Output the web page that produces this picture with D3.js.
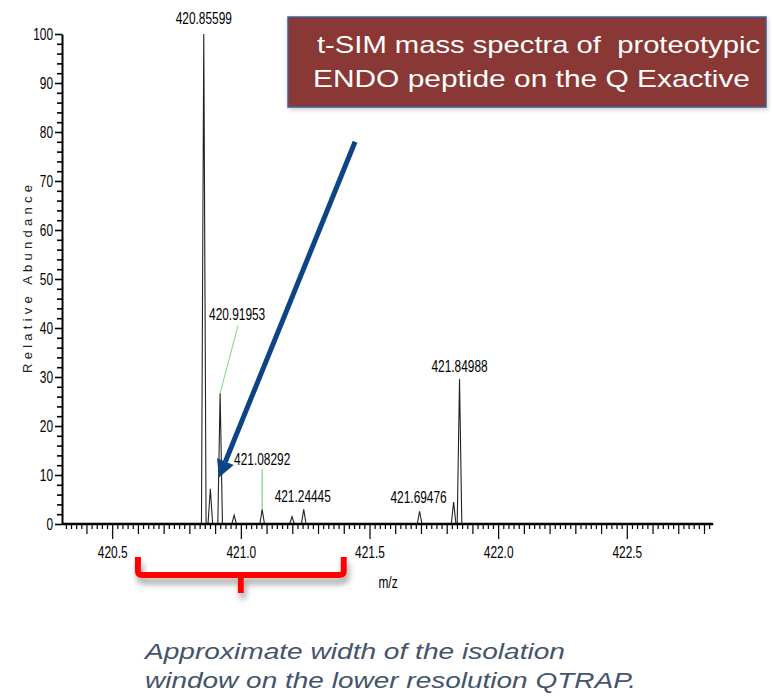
<!DOCTYPE html>
<html>
<head>
<meta charset="utf-8">
<script src="https://cdn.jsdelivr.net/npm/d3@7"></script>
<style>
  body { margin: 0; background: #fff; }
  svg { font-family: "Liberation Sans", Arial, sans-serif; }
</style>
</head>
<body>
<svg id="chart"></svg>
<script>
// peaks (m/z, relative abundance)
var peakMz = [420.85599, 420.8815, 420.91953, 420.974, 421.08292, 421.199, 421.24445, 421.69476, 421.827, 421.84988];
var peakHeight = [100, 7.2, 26.7, 1.8, 3.0, 1.5, 3.0, 2.6, 4.5, 29.6];

// labelled peaks
var labelMz = [420.85599, 420.91953, 421.08292, 421.24445, 421.69476, 421.84988];
var labelText = ["420.85599", "420.91953", "421.08292", "421.24445", "421.69476", "421.84988"];

var xMajor = [420.5, 421.0, 421.5, 422.0, 422.5];
var yMajor = [0, 10, 20, 30, 40, 50, 60, 70, 80, 90, 100];

var isolationWindow = [420.6, 421.4];
var arrowFrom = [421.444, 78];
var arrowTo = [420.915, 9.5];

var titleLines = ["t-SIM mass spectra of  proteotypic", "ENDO peptide on the Q Exactive"];
var noteLines = ["Approximate width of the isolation", "window on the lower resolution QTRAP."];

function chart() {
  var width = 772, height = 696;
  var svg = d3.select("#chart").attr("width", width).attr("height", height);

  var defs = svg.append("defs");
  var sh = defs.append("filter").attr("id", "shadow")
    .attr("x", "-20%").attr("y", "-20%").attr("width", "140%").attr("height", "180%");
  sh.append("feDropShadow").attr("dx", 2).attr("dy", 6).attr("stdDeviation", 3)
    .attr("flood-color", "#666").attr("flood-opacity", 0.6);
  var sh2 = defs.append("filter").attr("id", "boxshadow")
    .attr("x", "-5%").attr("y", "-10%").attr("width", "110%").attr("height", "130%");
  sh2.append("feDropShadow").attr("dx", 1).attr("dy", 2).attr("stdDeviation", 2)
    .attr("flood-color", "#999").attr("flood-opacity", 0.5);

  var x = d3.scaleLinear().domain([420.305, 422.835]).range([62, 713]);
  var y = d3.scaleLinear().domain([0, 100]).range([524, 34]);

  var narrow = 0.7; // condensed digits like the instrument software
  var fs = 17;

  // y axis: minor every 2, major every 10
  var yMinor = d3.range(0, 101, 2).filter(function(v) { return v % 10 !== 0; });
  svg.append("g").attr("transform", "translate(62,0)")
    .call(d3.axisLeft(y).tickValues(yMinor).tickSize(5).tickSizeOuter(0).tickFormat(""))
    .call(function(g) { g.select(".domain").remove(); })
    .selectAll("line").attr("stroke", "#000").attr("stroke-width", 1.6);

  var yAx = svg.append("g").attr("transform", "translate(62,0)")
    .call(d3.axisLeft(y).tickValues(yMajor).tickSize(7).tickSizeOuter(0).tickFormat(d3.format("d")));
  yAx.select(".domain").attr("stroke", "#000").attr("stroke-width", 2);
  yAx.selectAll("line").attr("stroke", "#000").attr("stroke-width", 1.6);
  yAx.selectAll("text")
    .attr("font-family", "'Liberation Sans', Arial, sans-serif")
    .attr("font-size", fs).attr("fill", "#000")
    .attr("x", -9 / narrow)
    .attr("transform", "scale(" + narrow + ",1)");

  // x axis: minor 0.02, medium 0.1, major 0.5
  var xMinor = d3.range(21016, 21142).map(function(i) { return i / 50; })
    .filter(function(v) { return Math.abs(v * 10 - Math.round(v * 10)) > 1e-6; });
  var xMedium = d3.range(4204, 4229).map(function(i) { return i / 10; })
    .filter(function(v) { return Math.abs(v * 2 - Math.round(v * 2)) > 1e-6; });

  svg.append("g").attr("transform", "translate(0,524)")
    .call(d3.axisBottom(x).tickValues(xMinor).tickSize(5).tickSizeOuter(0).tickFormat(""))
    .call(function(g) { g.select(".domain").remove(); })
    .selectAll("line").attr("stroke", "#000").attr("stroke-width", 1.2);
  svg.append("g").attr("transform", "translate(0,524)")
    .call(d3.axisBottom(x).tickValues(xMedium).tickSize(10).tickSizeOuter(0).tickFormat(""))
    .call(function(g) { g.select(".domain").remove(); })
    .selectAll("line").attr("stroke", "#000").attr("stroke-width", 1.2);

  var xAx = svg.append("g").attr("transform", "translate(0,524)")
    .call(d3.axisBottom(x).tickValues(xMajor).tickSize(15).tickSizeOuter(0)
      .tickPadding(7).tickFormat(d3.format(".1f")));
  xAx.selectAll("line").attr("stroke", "#000").attr("stroke-width", 1.2);
  xAx.selectAll("text")
    .attr("font-family", "'Liberation Sans', Arial, sans-serif")
    .attr("font-size", fs).attr("fill", "#000")
    .attr("transform", "scale(" + narrow + ",1)");

  // spectrum profile
  var hw = 0.009;
  var line = d3.line().x(function(d) { return x(d[0]); }).y(function(d) { return y(d[1]); });
  svg.append("g").selectAll("path")
    .data(peakMz)
    .enter().append("path")
    .attr("d", function(d, i) { return line([[d - hw, 0], [d, peakHeight[i]], [d + hw, 0]]); })
    .attr("fill", "none").attr("stroke", "#222").attr("stroke-width", 1.1);

  svg.append("line")
    .attr("x1", 62).attr("x2", 713).attr("y1", 524).attr("y2", 524)
    .attr("stroke", "#000").attr("stroke-width", 2.4);

  // peak labels (a couple sit on green leader lines)
  var labelPos = {
    "420.85599": [0, -10],
    "420.91953": [17, -73],
    "421.08292": [0, -44],
    "421.24445": [-1, -7],
    "421.69476": [-1, -8],
    "421.84988": [0, -7]
  };
  var lab = svg.append("g");
  labelMz.forEach(function(mz, i) {
    var h = peakHeight[peakMz.indexOf(mz)];
    var px = x(mz), py = y(h);
    var off = labelPos[labelText[i]];
    if (labelText[i] === "420.91953") {
      lab.append("line").attr("x1", px).attr("y1", py).attr("x2", px + 18).attr("y2", py - 68)
        .attr("stroke", "#7fd87f").attr("stroke-width", 1);
    }
    if (labelText[i] === "421.08292") {
      lab.append("line").attr("x1", px).attr("y1", py).attr("x2", px).attr("y2", py - 40)
        .attr("stroke", "#7fd87f").attr("stroke-width", 1.3);
    }
    lab.append("text")
      .attr("transform", "translate(" + (px + off[0]) + "," + (py + off[1]) + ") scale(" + narrow + ",1)")
      .attr("text-anchor", "middle")
      .attr("font-size", fs).attr("fill", "#000")
      .text(labelText[i]);
  });

  // axis titles
  svg.append("text")
    .attr("transform", "translate(32,279) rotate(-90)")
    .attr("text-anchor", "middle")
    .attr("font-size", 13).attr("fill", "#222")
    .attr("textLength", 188).attr("lengthAdjust", "spacing")
    .text("Relative Abundance");
  svg.append("text")
    .attr("transform", "translate(388,588) scale(" + narrow + ",1)")
    .attr("text-anchor", "middle")
    .attr("font-size", fs).attr("fill", "#000")
    .text("m/z");

  // title box
  svg.append("rect")
    .attr("x", 288).attr("y", 17).attr("width", 478).attr("height", 90)
    .attr("fill", "#893835").attr("stroke", "#3b5f98").attr("stroke-width", 1.5)
    .attr("filter", "url(#boxshadow)");
  svg.append("text").attr("x", 317).attr("y", 53)
    .attr("font-size", 24).attr("fill", "#fff")
    .style("white-space", "pre")
    .attr("textLength", 443).attr("lengthAdjust", "spacingAndGlyphs")
    .text(titleLines[0]);
  svg.append("text").attr("x", 313).attr("y", 87)
    .attr("font-size", 24).attr("fill", "#fff")
    .attr("textLength", 437).attr("lengthAdjust", "spacingAndGlyphs")
    .text(titleLines[1]);

  // blue arrow pointing at the 420.92 isotope
  var ax1 = x(arrowFrom[0]), ay1 = y(arrowFrom[1]);
  var ax2 = x(arrowTo[0]), ay2 = y(arrowTo[1]);
  var ang = Math.atan2(ay2 - ay1, ax2 - ax1);
  var headLen = 17, headW = 9;
  var bx = ax2 - headLen * Math.cos(ang), by = ay2 - headLen * Math.sin(ang);
  svg.append("line")
    .attr("x1", ax1).attr("y1", ay1).attr("x2", bx).attr("y2", by)
    .attr("stroke", "#0d4387").attr("stroke-width", 5);
  svg.append("path")
    .attr("d", "M" + ax2 + "," + ay2 +
      "L" + (bx + headW * Math.sin(ang)) + "," + (by - headW * Math.cos(ang)) +
      "L" + (bx - headW * Math.sin(ang)) + "," + (by + headW * Math.cos(ang)) + "Z")
    .attr("fill", "#0d4387");

  // red bracket for the QTRAP isolation window
  var bl = x(isolationWindow[0]), br = x(isolationWindow[1]);
  var bm = (bl + br) / 2, top = 557, mid = 575, r = 4;
  svg.append("path")
    .attr("d", "M" + bl + "," + top + "L" + bl + "," + (mid - r) +
      "Q" + bl + "," + mid + " " + (bl + r) + "," + mid +
      "L" + (br - r) + "," + mid +
      "Q" + br + "," + mid + " " + br + "," + (mid - r) +
      "L" + br + "," + top +
      "M" + bm + "," + mid + "L" + bm + "," + 593)
    .attr("fill", "none").attr("stroke", "#ff0000").attr("stroke-width", 6)
    .attr("stroke-linejoin", "round")
    .attr("filter", "url(#shadow)");

  // note
  svg.append("text").attr("x", 145).attr("y", 659)
    .attr("font-size", 22).attr("font-style", "italic").attr("fill", "#44546a")
    .attr("textLength", 420).attr("lengthAdjust", "spacingAndGlyphs")
    .text(noteLines[0]);
  svg.append("text").attr("x", 145).attr("y", 688)
    .attr("font-size", 22).attr("font-style", "italic").attr("fill", "#44546a")
    .attr("textLength", 491).attr("lengthAdjust", "spacingAndGlyphs")
    .text(noteLines[1]);
}

chart();
</script>
</body>
</html>
